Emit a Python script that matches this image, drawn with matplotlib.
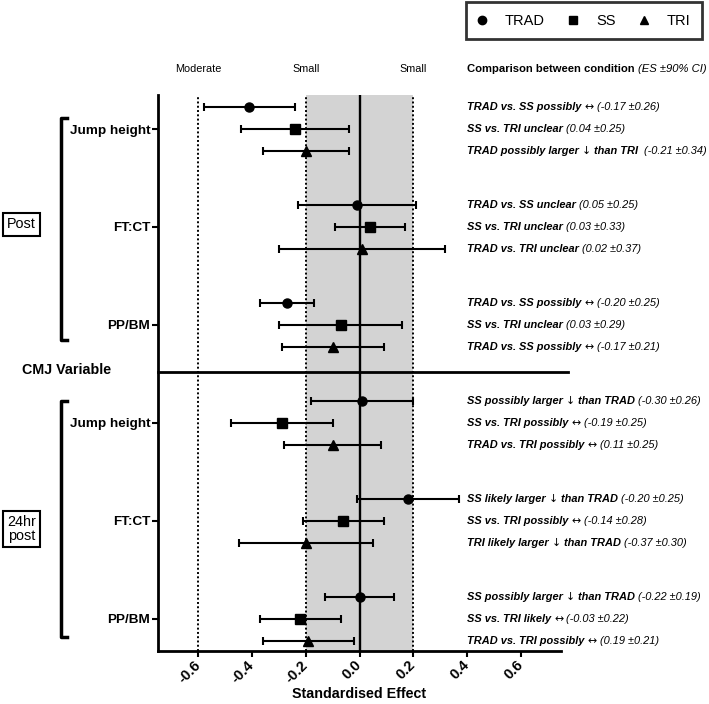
import re
import numpy as np
import matplotlib
matplotlib.use("Agg")
import matplotlib.pyplot as plt
from matplotlib.lines import Line2D
from matplotlib.transforms import ScaledTranslation
from matplotlib.offsetbox import TextArea, HPacker, AnnotationBbox

plt.rcParams.update({"font.family": ["Liberation Sans", "DejaVu Sans"],
                     "axes.unicode_minus": False})
W, H = 709, 704

conditions = ["TRAD", "SS", "TRI"]
markers = ["o", "s", "^"]
msizes = [6.5, 6.5, 6.5]
variables = ["Jump height", "FT:CT", "PP/BM"]
timepoints = ["Post", "24hr\npost"]

# rows: Jump height (TRAD, SS, TRI), FT:CT (...), PP/BM (...)
post_mean = [-0.41, -0.24, -0.20, -0.01, 0.04, 0.01, -0.27, -0.07, -0.10]
post_lower = [-0.58, -0.44, -0.36, -0.23, -0.09, -0.30, -0.37, -0.30, -0.29]
post_upper = [-0.24, -0.04, -0.04, 0.21, 0.17, 0.32, -0.17, 0.16, 0.09]
h24_mean = [0.01, -0.29, -0.10, 0.18, -0.06, -0.20, 0.00, -0.22, -0.19]
h24_lower = [-0.18, -0.48, -0.28, -0.01, -0.21, -0.45, -0.13, -0.37, -0.36]
h24_upper = [0.20, -0.10, 0.08, 0.37, 0.09, 0.05, 0.13, -0.07, -0.02]

post_notes = [("TRAD vs. SS possibly ↔", " (-0.17 ±0.26)"),
              ("SS vs. TRI unclear", " (0.04 ±0.25)"),
              ("TRAD possibly larger ↓ than TRI", "  (-0.21 ±0.34)"),
              ("TRAD vs. SS unclear", " (0.05 ±0.25)"),
              ("SS vs. TRI unclear", " (0.03 ±0.33)"),
              ("TRAD vs. TRI unclear", " (0.02 ±0.37)"),
              ("TRAD vs. SS possibly ↔", " (-0.20 ±0.25)"),
              ("SS vs. TRI unclear", " (0.03 ±0.29)"),
              ("TRAD vs. SS possibly ↔", " (-0.17 ±0.21)")]
h24_notes = [("SS possibly larger ↓ than TRAD", " (-0.30 ±0.26)"),
             ("SS vs. TRI possibly ↔", " (-0.19 ±0.25)"),
             ("TRAD vs. TRI possibly ↔", " (0.11 ±0.25)"),
             ("SS likely larger ↓ than TRAD", " (-0.20 ±0.25)"),
             ("SS vs. TRI possibly ↔", " (-0.14 ±0.28)"),
             ("TRI likely larger ↓ than TRAD", " (-0.37 ±0.30)"),
             ("SS possibly larger ↓ than TRAD", " (-0.22 ±0.19)"),
             ("SS vs. TRI likely ↔", " (-0.03 ±0.22)"),
             ("TRAD vs. TRI possibly ↔", " (0.19 ±0.21)")]

thresholds = [-0.6, -0.2, 0.2]
threshold_names = ["Moderate", "Small", "Small"]

ROW = 0.2245  # offset of TRAD / TRI rows around variable centre
fx = lambda px: px / W
fy = lambda py: 1 - py / H

fig = plt.figure(figsize=(W / 100, H / 100), dpi=100)
ax = fig.add_axes([fx(158), fy(651), fx(561) - fx(158), fy(95) - fy(651)])

ax.axvspan(-0.2, 0.2, color="#d3d3d3", lw=0, zorder=0)
for t in thresholds:
    ax.axvline(t, color="k", ls=(0, (1, 1.2)), lw=1.4, zorder=1)
ax.axvline(0, color="k", lw=1.7, zorder=1)

series = [(post_mean, post_lower, post_upper), (h24_mean, h24_lower, h24_upper)]
for t, (mean, lo, hi) in enumerate(series):
    for c in range(3):
        idx = [v * 3 + c for v in range(3)]
        m = np.array([mean[i] for i in idx])
        l = np.array([lo[i] for i in idx])
        u = np.array([hi[i] for i in idx])
        y = np.array([t * 3 + v + (c - 1) * ROW for v in range(3)])
        ax.errorbar(m, y, xerr=[m - l, u - m], fmt=markers[c], color="k",
                    ms=msizes[c], elinewidth=1.5, capsize=3.2, capthick=1.5, zorder=3)

ticks = np.round(np.arange(-0.6, 0.61, 0.2), 1)
ax.set_xlim(-0.75, 0.75)
ax.set_ylim(5.327, -0.347)
ax.set_xticks(ticks)
ax.set_xticklabels([f"{v:.1f}" for v in ticks], rotation=45, ha="right", va="center",
                   rotation_mode="anchor", fontweight="bold", fontsize=10.5)
shift = ScaledTranslation(0.035, 0, fig.dpi_scale_trans)
for lbl in ax.get_xticklabels():
    lbl.set_transform(lbl.get_transform() + shift)
ax.set_yticks(range(6))
ax.set_yticklabels(variables * 2, fontweight="bold", fontsize=9.7)
ax.tick_params(axis="y", length=4.5, width=1.5, pad=1)
ax.tick_params(axis="x", length=4.5, width=1.5, pad=4)
for s in ["top", "right"]:
    ax.spines[s].set_visible(False)
for s in ["left", "bottom"]:
    ax.spines[s].set_linewidth(2)
ax.set_xlabel("Standardised Effect", fontweight="bold", fontsize=10.3, labelpad=1)

# divider between time points
ax.plot([-0.75, 0.776], [2.48, 2.48], color="k", lw=2, clip_on=False)

# threshold names and header
for t, name in zip(thresholds, threshold_names):
    ax.text(t, 1.047, name, transform=ax.get_xaxis_transform(), ha="center",
            va="center", fontsize=7.8)


def rich(parts, x, y, coords):
    kids = [TextArea(s, textprops=p) for s, p in parts]
    box = HPacker(children=kids, align="baseline", pad=0, sep=0)
    ab = AnnotationBbox(box, (x, y), xycoords=coords, box_alignment=(0, 0.5),
                        frameon=False, pad=0, annotation_clip=False)
    ax.add_artist(ab)


FS = 7.95
BI = dict(fontsize=FS, fontweight="bold", fontstyle="italic")
AR = dict(fontsize=FS, fontweight="normal", fontstyle="normal", family="DejaVu Sans")
IT = dict(fontsize=FS, fontstyle="italic")

rich([("Comparison between condition ", dict(fontsize=8.1, fontweight="bold")),
      ("(ES ±90% CI)", dict(fontsize=8.1, fontstyle="italic"))],
     0.40, 1.047, ("data", "axes fraction"))

for t, notes in enumerate([post_notes, h24_notes]):
    for i, (label, stats) in enumerate(notes):
        v, c = divmod(i, 3)
        parts = []
        for seg in re.split(r"([↔↓])", label):
            if not seg:
                continue
            parts.append((seg, AR if seg in "↔↓" else BI))
        parts.append((stats, IT))
        rich(parts, 0.40, t * 3 + v + (c - 1) * ROW, "data")

# left-hand labels
fig.text(fx(22), fy(370), "CMJ Variable", ha="left", va="center",
         fontweight="bold", fontsize=10.3)
for (top, bot), label, yc in zip([(118, 340), (401, 637)], timepoints, [224.5, 529]):
    fig.add_artist(Line2D([fx(67), fx(61), fx(61), fx(67)],
                          [fy(top), fy(top), fy(bot), fy(bot)], color="k", lw=2.5))
    fig.text(fx(21.5), fy(yc), label, ha="center", va="center", fontsize=10.4,
             linespacing=1.05,
             bbox=dict(boxstyle="square,pad=0.28", fc="white", ec="k", lw=1.5))

# legend
handles = [Line2D([], [], marker=mk, ls="none", color="k", ms=6) for mk in markers]
leg = fig.legend(handles, conditions, loc="upper right",
                 bbox_to_anchor=(fx(702), fy(2)), ncol=3, frameon=True,
                 fancybox=False, edgecolor="k", prop=dict(size=10.5),
                 borderpad=0.8, handletextpad=1.25, columnspacing=1.6,
                 handlelength=0.65, borderaxespad=0)
leg.get_frame().set_linewidth(2)

plt.savefig("out.png", dpi=100)
